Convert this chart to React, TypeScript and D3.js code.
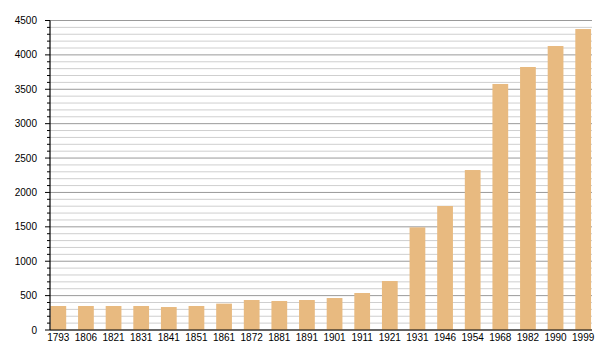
import React from "react";
import * as d3 from "d3";

const years = ["1793","1806","1821","1831","1841","1851","1861","1872","1881","1891","1901","1911","1921","1931","1946","1954","1968","1982","1990","1999"];
const population = [349, 349, 349, 349, 334, 349, 383, 436, 422, 436, 465, 538, 712, 1493, 1803, 2326, 3577, 3824, 4129, 4376];
const majorTicks = [0, 500, 1000, 1500, 2000, 2500, 3000, 3500, 4000, 4500];

const W = 600, H = 360;
const left = 50, right = 592, top = 20.5, bottom = 330;

export default function App() {
  const y = d3.scaleLinear().domain([0, 4500]).range([bottom, top]);
  const x = d3.scaleBand().domain(years).range([44.5, 597]).paddingInner(0.43).paddingOuter(0.215);
  const minor = d3.range(0, 4501, 100);
  return (
    <svg width={W} height={H} style={{ position: "absolute", left: 0, top: 0, fontFamily: "Liberation Sans, Arial, sans-serif" }}>
      <rect width={W} height={H} fill="#fff" />
      {minor.map((v) => {
        const isMajor = v % 500 === 0;
        return (
          <g key={v}>
            <line x1={left} x2={right} y1={y(v)} y2={y(v)} stroke={isMajor ? "#9a9a9a" : "#cfcfcf"} strokeWidth={1} />
            <line x1={isMajor ? left - 5 : left - 3} x2={left} y1={y(v)} y2={y(v)} stroke="#000" strokeWidth={1} />
          </g>
        );
      })}
      {years.map((yr, i) => (
        <rect key={yr} x={x(yr)} width={x.bandwidth()} y={y(population[i])} height={bottom - y(population[i])} fill="#e8ba80" />
      ))}
      <line x1={left} x2={left} y1={top} y2={bottom} stroke="#000" strokeWidth={1.2} />
      <line x1={left} x2={right} y1={bottom} y2={bottom} stroke="#000" strokeWidth={1.2} />
      {majorTicks.map((v) => (
        <text key={v} x={37} y={y(v)} dy="0.35em" textAnchor="end" fontSize={10} fill="#000">{v}</text>
      ))}
      {years.map((yr) => (
        <text key={yr} x={(x(yr) as number) + x.bandwidth() / 2} y={341} textAnchor="middle" fontSize={10} fill="#000">{yr}</text>
      ))}
    </svg>
  );
}
